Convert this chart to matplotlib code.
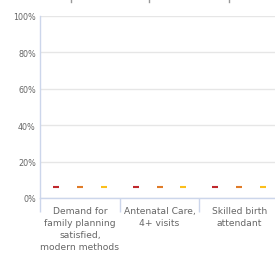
import matplotlib.pyplot as plt
from matplotlib.lines import Line2D

# Categories and series (values in %)
categories = ['Demand for\nfamily planning\nsatisfied,\nmodern methods',
              'Antenatal Care,\n4+ visits',
              'Skilled birth\nattendant']
series_1 = [6, 6, 6]
series_2 = [6, 6, 6]
series_3 = [6, 6, 6]
y_ticks = [0, 20, 40, 60, 80, 100]
y_labels = ['0%', '20%', '40%', '60%', '80%', '100%']

colors = ['#c0282d', '#e07b28', '#fbbf1c']
offsets = [-0.30, 0, 0.30]

fig = plt.figure(figsize=(2.75, 2.55), dpi=100)
ax = fig.add_axes([40 / 275, 1 - 199 / 255, 239 / 275, 182 / 255])

for vals, col, off in zip([series_1, series_2, series_3], colors, offsets):
    xs = [i + off for i in range(len(categories))]
    ax.plot(xs, vals, linestyle='none', marker='_', markersize=4,
            markeredgewidth=1.5, color=col, zorder=3)

ax.set_xlim(-0.5, len(categories) - 0.5)
ax.set_ylim(0, 100)

# gridlines
ax.set_yticks(y_ticks)
ax.set_yticklabels(y_labels)
ax.grid(axis='y', color='#e6e6e6', linewidth=1)
ax.set_axisbelow(True)
ax.tick_params(axis='y', length=0, pad=3, labelsize=5.8, labelcolor='#666666')

# category labels between boundary ticks
ax.set_xticks(range(len(categories)))
ax.set_xticklabels(categories, fontsize=6.6, color='#666666', linespacing=1.4)
ax.tick_params(axis='x', length=0, pad=6)
ax.set_xticks([i + 0.5 for i in range(-1, len(categories))], minor=True)
ax.tick_params(axis='x', which='minor', length=10, width=1, color='#ccd6eb')

for s in ['top', 'right']:
    ax.spines[s].set_visible(False)
ax.spines['bottom'].set_color('#ccd6eb')
ax.spines['bottom'].set_linewidth(1)
ax.spines['left'].set_color('#ccd6eb')
ax.spines['left'].set_linewidth(1)

# small marks at the top edge (from a clipped element above)
for xp in [71, 149, 229]:
    fig.add_artist(Line2D([xp / 275, xp / 275], [1 - 3 / 255, 1], color='#999999', linewidth=1))

fig.savefig('out.png', dpi=100)
